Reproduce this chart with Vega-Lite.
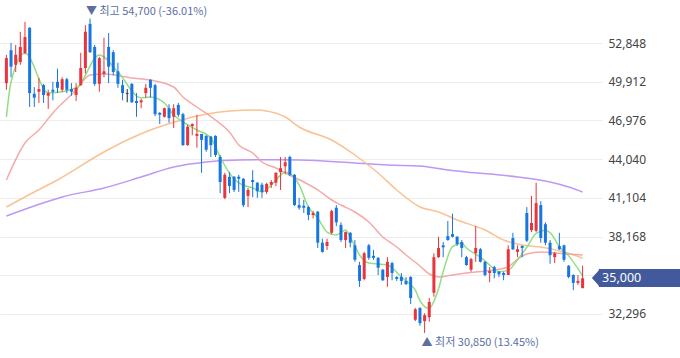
{
"$schema": "https://vega.github.io/schema/vega-lite/v6.json",
"width": 602, "height": 358, "padding": {"left": 0, "top": 0, "right": 78, "bottom": 0}, "autosize": {"type": "none"},
"config": {"view": {"stroke": null}, "font": "Noto Sans"},
"datasets": {
"candles": [
{"i":0,"o":49800,"h":51950,"l":49300,"c":51700,"d":"up"},
{"i":1,"o":52300,"h":52850,"l":50250,"c":51050,"d":"down"},
{"i":2,"o":51200,"h":52700,"l":50650,"c":51950,"d":"up"},
{"i":3,"o":51400,"h":53700,"l":51200,"c":52550,"d":"up"},
{"i":4,"o":52100,"h":54450,"l":52000,"c":53300,"d":"up"},
{"i":5,"o":54000,"h":54050,"l":48000,"c":49050,"d":"down"},
{"i":6,"o":49000,"h":49500,"l":48000,"c":48700,"d":"down"},
{"i":7,"o":49150,"h":50200,"l":48300,"c":49350,"d":"up"},
{"i":8,"o":49650,"h":49750,"l":48300,"c":48900,"d":"down"},
{"i":9,"o":48850,"h":49300,"l":47850,"c":49050,"d":"up"},
{"i":10,"o":49300,"h":49900,"l":48500,"c":49150,"d":"down"},
{"i":11,"o":49900,"h":50900,"l":49050,"c":49450,"d":"down"},
{"i":12,"o":49300,"h":50250,"l":49150,"c":50100,"d":"up"},
{"i":13,"o":50100,"h":50200,"l":49050,"c":49300,"d":"down"},
{"i":14,"o":49350,"h":49800,"l":48850,"c":49150,"d":"down"},
{"i":15,"o":48900,"h":49800,"l":48450,"c":49450,"d":"up"},
{"i":16,"o":49650,"h":52100,"l":49600,"c":50950,"d":"up"},
{"i":17,"o":50950,"h":54200,"l":50550,"c":53700,"d":"up"},
{"i":18,"o":54300,"h":54700,"l":52100,"c":52150,"d":"down"},
{"i":19,"o":52550,"h":52700,"l":49600,"c":49750,"d":"down"},
{"i":20,"o":49750,"h":51800,"l":49150,"c":51700,"d":"up"},
{"i":21,"o":50500,"h":53250,"l":50250,"c":50700,"d":"up"},
{"i":22,"o":52550,"h":53600,"l":49800,"c":51050,"d":"down"},
{"i":23,"o":52150,"h":52300,"l":50400,"c":50650,"d":"down"},
{"i":24,"o":50700,"h":51350,"l":49450,"c":49750,"d":"down"},
{"i":25,"o":49650,"h":50050,"l":48500,"c":49050,"d":"down"},
{"i":26,"o":49050,"h":49350,"l":48350,"c":49000,"d":"flat"},
{"i":27,"o":49750,"h":49800,"l":48300,"c":48350,"d":"down"},
{"i":28,"o":48450,"h":49050,"l":47250,"c":48300,"d":"down"},
{"i":29,"o":48350,"h":48600,"l":47900,"c":48500,"d":"up"},
{"i":30,"o":49050,"h":49750,"l":48700,"c":49450,"d":"up"},
{"i":31,"o":50050,"h":50100,"l":48700,"c":49450,"d":"down"},
{"i":32,"o":49650,"h":49750,"l":47300,"c":47450,"d":"down"},
{"i":33,"o":47550,"h":47600,"l":46700,"c":47400,"d":"down"},
{"i":34,"o":47250,"h":47950,"l":47200,"c":47900,"d":"up"},
{"i":35,"o":47900,"h":48200,"l":46800,"c":47150,"d":"down"},
{"i":36,"o":47250,"h":48200,"l":46400,"c":47900,"d":"up"},
{"i":37,"o":48150,"h":48300,"l":47250,"c":47400,"d":"down"},
{"i":38,"o":47450,"h":47550,"l":45050,"c":45100,"d":"down"},
{"i":39,"o":45100,"h":46650,"l":45050,"c":46500,"d":"up"},
{"i":40,"o":46550,"h":46750,"l":45850,"c":46700,"d":"up"},
{"i":41,"o":45800,"h":47400,"l":44900,"c":45950,"d":"up"},
{"i":42,"o":45950,"h":45950,"l":43000,"c":45500,"d":"down"},
{"i":43,"o":45800,"h":45850,"l":44600,"c":44750,"d":"down"},
{"i":44,"o":45750,"h":45800,"l":44200,"c":45100,"d":"down"},
{"i":45,"o":45800,"h":45850,"l":44200,"c":44350,"d":"down"},
{"i":46,"o":44200,"h":44350,"l":41450,"c":42300,"d":"down"},
{"i":47,"o":41100,"h":43000,"l":41000,"c":42850,"d":"up"},
{"i":48,"o":42700,"h":43050,"l":41450,"c":42000,"d":"down"},
{"i":49,"o":42700,"h":42750,"l":41550,"c":41700,"d":"down"},
{"i":50,"o":42700,"h":42850,"l":41550,"c":42550,"d":"down"},
{"i":51,"o":42550,"h":42600,"l":40400,"c":40550,"d":"down"},
{"i":52,"o":41250,"h":41850,"l":40400,"c":41700,"d":"up"},
{"i":53,"o":42450,"h":43200,"l":41150,"c":42300,"d":"down"},
{"i":54,"o":42250,"h":42300,"l":41100,"c":41600,"d":"down"},
{"i":55,"o":42100,"h":42250,"l":41100,"c":41550,"d":"down"},
{"i":56,"o":41550,"h":42250,"l":41400,"c":42150,"d":"up"},
{"i":57,"o":42100,"h":42450,"l":41850,"c":42300,"d":"up"},
{"i":58,"o":42250,"h":43050,"l":42000,"c":43000,"d":"up"},
{"i":59,"o":43050,"h":44200,"l":41700,"c":43350,"d":"up"},
{"i":60,"o":43500,"h":44200,"l":42900,"c":43800,"d":"up"},
{"i":61,"o":44200,"h":44300,"l":42750,"c":42850,"d":"down"},
{"i":62,"o":42850,"h":42900,"l":40500,"c":40550,"d":"down"},
{"i":63,"o":40550,"h":41100,"l":40200,"c":40350,"d":"down"},
{"i":64,"o":40500,"h":40950,"l":39950,"c":40350,"d":"down"},
{"i":65,"o":40400,"h":40500,"l":39400,"c":39800,"d":"down"},
{"i":66,"o":39800,"h":40100,"l":39550,"c":39950,"d":"up"},
{"i":67,"o":40050,"h":40100,"l":37300,"c":37700,"d":"down"},
{"i":68,"o":37700,"h":38000,"l":36950,"c":37000,"d":"down"},
{"i":69,"o":37450,"h":38000,"l":37150,"c":37750,"d":"up"},
{"i":70,"o":38450,"h":40200,"l":38350,"c":40100,"d":"up"},
{"i":71,"o":40350,"h":40550,"l":38950,"c":39250,"d":"down"},
{"i":72,"o":39050,"h":39250,"l":37750,"c":37900,"d":"down"},
{"i":73,"o":37900,"h":38550,"l":37300,"c":38500,"d":"up"},
{"i":74,"o":38450,"h":38500,"l":37350,"c":37700,"d":"down"},
{"i":75,"o":37500,"h":37900,"l":36250,"c":36400,"d":"down"},
{"i":76,"o":36000,"h":36250,"l":34350,"c":34800,"d":"down"},
{"i":77,"o":34950,"h":37000,"l":34850,"c":36900,"d":"up"},
{"i":78,"o":37500,"h":37600,"l":36400,"c":36550,"d":"down"},
{"i":79,"o":36700,"h":37150,"l":36400,"c":36550,"d":"down"},
{"i":80,"o":36550,"h":36600,"l":35250,"c":35800,"d":"down"},
{"i":81,"o":35650,"h":35700,"l":34800,"c":34850,"d":"down"},
{"i":82,"o":35100,"h":36600,"l":34350,"c":36250,"d":"up"},
{"i":83,"o":36150,"h":36250,"l":34850,"c":35400,"d":"down"},
{"i":84,"o":35100,"h":35150,"l":34800,"c":34950,"d":"down"},
{"i":85,"o":35100,"h":35400,"l":34500,"c":34800,"d":"down"},
{"i":86,"o":34800,"h":35100,"l":34500,"c":34550,"d":"down"},
{"i":87,"o":35100,"h":35150,"l":33050,"c":33500,"d":"down"},
{"i":88,"o":31850,"h":32750,"l":31750,"c":32650,"d":"up"},
{"i":89,"o":32750,"h":32800,"l":31400,"c":31600,"d":"down"},
{"i":90,"o":31750,"h":32350,"l":30850,"c":32200,"d":"up"},
{"i":91,"o":32050,"h":33500,"l":31700,"c":33200,"d":"up"},
{"i":92,"o":33900,"h":36900,"l":33600,"c":36600,"d":"up"},
{"i":93,"o":36600,"h":38150,"l":36550,"c":37300,"d":"up"},
{"i":94,"o":37500,"h":37750,"l":36600,"c":37350,"d":"down"},
{"i":95,"o":38200,"h":39350,"l":37850,"c":37900,"d":"down"},
{"i":96,"o":38350,"h":39900,"l":38100,"c":38150,"d":"down"},
{"i":97,"o":38150,"h":38200,"l":37450,"c":37600,"d":"down"},
{"i":98,"o":37750,"h":37900,"l":36600,"c":37300,"d":"down"},
{"i":99,"o":36600,"h":36700,"l":35950,"c":36000,"d":"down"},
{"i":100,"o":35650,"h":36550,"l":35500,"c":36450,"d":"up"},
{"i":101,"o":36900,"h":38950,"l":36250,"c":37300,"d":"up"},
{"i":102,"o":37200,"h":37300,"l":36200,"c":36250,"d":"down"},
{"i":103,"o":36250,"h":36300,"l":35150,"c":35250,"d":"down"},
{"i":104,"o":35400,"h":35850,"l":34700,"c":35550,"d":"up"},
{"i":105,"o":35850,"h":35950,"l":35000,"c":35400,"d":"down"},
{"i":106,"o":35500,"h":35550,"l":35100,"c":35300,"d":"down"},
{"i":107,"o":35400,"h":35500,"l":34850,"c":35250,"d":"down"},
{"i":108,"o":35250,"h":37500,"l":35250,"c":37200,"d":"up"},
{"i":109,"o":38050,"h":38450,"l":37150,"c":37200,"d":"down"},
{"i":110,"o":37000,"h":37500,"l":36600,"c":37200,"d":"up"},
{"i":111,"o":37450,"h":37500,"l":36600,"c":37300,"d":"down"},
{"i":112,"o":39950,"h":40400,"l":37750,"c":37850,"d":"down"},
{"i":113,"o":38650,"h":41250,"l":38500,"c":39200,"d":"up"},
{"i":114,"o":38600,"h":42250,"l":38500,"c":40700,"d":"up"},
{"i":115,"o":40550,"h":40850,"l":37700,"c":38050,"d":"down"},
{"i":116,"o":39100,"h":39250,"l":37500,"c":37700,"d":"down"},
{"i":117,"o":37700,"h":37900,"l":36100,"c":36750,"d":"down"},
{"i":118,"o":36600,"h":37000,"l":36150,"c":36900,"d":"up"},
{"i":119,"o":37450,"h":38450,"l":37150,"c":37200,"d":"down"},
{"i":120,"o":37500,"h":37550,"l":36250,"c":36400,"d":"down"},
{"i":121,"o":35950,"h":36000,"l":35000,"c":35100,"d":"down"},
{"i":122,"o":35250,"h":35300,"l":34100,"c":34650,"d":"down"},
{"i":123,"o":34650,"h":35250,"l":34500,"c":34800,"d":"up"},
{"i":124,"o":34250,"h":35950,"l":34250,"c":35000,"d":"up"}
],
"ma": [
{"m":"ma120","i":0,"v":39724},{"m":"ma120","i":6,"v":40483},{"m":"ma120","i":12,"v":41166},{"m":"ma120","i":21,"v":41848},{"m":"ma120","i":29,"v":42683},{"m":"ma120","i":36,"v":43441},{"m":"ma120","i":43,"v":43821},{"m":"ma120","i":50,"v":43972},{"m":"ma120","i":57,"v":43990},{"m":"ma120","i":63,"v":43972},{"m":"ma120","i":75,"v":43745},{"m":"ma120","i":82,"v":43593},{"m":"ma120","i":89,"v":43517},{"m":"ma120","i":95,"v":43214},{"m":"ma120","i":99,"v":43062},{"m":"ma120","i":110,"v":42683},{"m":"ma120","i":117,"v":42303},{"m":"ma120","i":121,"v":41924},{"m":"ma120","i":124,"v":41545},
{"m":"ma60","i":0,"v":40407},{"m":"ma60","i":6,"v":41545},{"m":"ma60","i":11,"v":42455},{"m":"ma60","i":21,"v":44579},{"m":"ma60","i":26,"v":45490},{"m":"ma60","i":31,"v":46248},{"m":"ma60","i":37,"v":46931},{"m":"ma60","i":42,"v":47386},{"m":"ma60","i":48,"v":47690},{"m":"ma60","i":54,"v":47765},{"m":"ma60","i":56,"v":47690},{"m":"ma60","i":60,"v":47234},{"m":"ma60","i":63,"v":46476},{"m":"ma60","i":70,"v":45490},{"m":"ma60","i":75,"v":44352},{"m":"ma60","i":80,"v":42986},{"m":"ma60","i":84,"v":41697},{"m":"ma60","i":89,"v":40407},{"m":"ma60","i":93,"v":40028},{"m":"ma60","i":97,"v":39421},{"m":"ma60","i":103,"v":38662},{"m":"ma60","i":107,"v":37904},{"m":"ma60","i":111,"v":37524},{"m":"ma60","i":115,"v":37373},{"m":"ma60","i":120,"v":36993},{"m":"ma60","i":124,"v":36538},
{"m":"ma20","i":0,"v":42455},{"m":"ma20","i":4,"v":45262},{"m":"ma20","i":7,"v":46248},{"m":"ma20","i":10,"v":47538},{"m":"ma20","i":15,"v":49283},{"m":"ma20","i":18,"v":50420},{"m":"ma20","i":21,"v":50496},{"m":"ma20","i":27,"v":50193},{"m":"ma20","i":31,"v":50041},{"m":"ma20","i":36,"v":49510},{"m":"ma20","i":38,"v":48752},{"m":"ma20","i":41,"v":47993},{"m":"ma20","i":45,"v":47007},{"m":"ma20","i":48,"v":46096},{"m":"ma20","i":50,"v":45110},{"m":"ma20","i":53,"v":44504},{"m":"ma20","i":55,"v":43821},{"m":"ma20","i":58,"v":43366},{"m":"ma20","i":60,"v":42986},{"m":"ma20","i":64,"v":42303},{"m":"ma20","i":67,"v":41697},{"m":"ma20","i":70,"v":40938},{"m":"ma20","i":72,"v":40559},{"m":"ma20","i":75,"v":40028},{"m":"ma20","i":78,"v":39269},{"m":"ma20","i":81,"v":38131},{"m":"ma20","i":84,"v":37373},{"m":"ma20","i":86,"v":36766},{"m":"ma20","i":89,"v":35931},{"m":"ma20","i":91,"v":35324},{"m":"ma20","i":93,"v":35097},{"m":"ma20","i":96,"v":35248},{"m":"ma20","i":99,"v":35400},{"m":"ma20","i":101,"v":35476},{"m":"ma20","i":105,"v":35628},{"m":"ma20","i":108,"v":35855},{"m":"ma20","i":110,"v":36462},{"m":"ma20","i":112,"v":36842},{"m":"ma20","i":115,"v":36993},{"m":"ma20","i":118,"v":36917},{"m":"ma20","i":121,"v":36842},{"m":"ma20","i":124,"v":36766},
{"m":"ma5","i":0,"v":47230},{"m":"ma5","i":1,"v":49890},{"m":"ma5","i":4,"v":52090},{"m":"ma5","i":9,"v":49060},{"m":"ma5","i":15,"v":49430},{"m":"ma5","i":20,"v":51940},{"m":"ma5","i":24,"v":50650},{"m":"ma5","i":29,"v":48680},{"m":"ma5","i":31,"v":48750},{"m":"ma5","i":34,"v":48300},{"m":"ma5","i":36,"v":47390},{"m":"ma5","i":38,"v":46860},{"m":"ma5","i":41,"v":46250},{"m":"ma5","i":44,"v":45640},{"m":"ma5","i":46,"v":44200},{"m":"ma5","i":48,"v":42990},{"m":"ma5","i":50,"v":42230},{"m":"ma5","i":53,"v":41850},{"m":"ma5","i":55,"v":41550},{"m":"ma5","i":57,"v":42080},{"m":"ma5","i":59,"v":42830},{"m":"ma5","i":60,"v":43060},{"m":"ma5","i":62,"v":42610},{"m":"ma5","i":63,"v":42080},{"m":"ma5","i":65,"v":40410},{"m":"ma5","i":67,"v":39570},{"m":"ma5","i":69,"v":38510},{"m":"ma5","i":71,"v":38280},{"m":"ma5","i":73,"v":38660},{"m":"ma5","i":74,"v":38130},{"m":"ma5","i":76,"v":36770},{"m":"ma5","i":78,"v":36160},{"m":"ma5","i":82,"v":36010},{"m":"ma5","i":85,"v":35100},{"m":"ma5","i":87,"v":34500},{"m":"ma5","i":88,"v":34100},{"m":"ma5","i":89,"v":33300},{"m":"ma5","i":90,"v":32850},{"m":"ma5","i":91,"v":32700},{"m":"ma5","i":92,"v":33250},{"m":"ma5","i":93,"v":34200},{"m":"ma5","i":94,"v":35500},{"m":"ma5","i":96,"v":37400},{"m":"ma5","i":98,"v":37650},{"m":"ma5","i":99,"v":37300},{"m":"ma5","i":102,"v":36600},{"m":"ma5","i":104,"v":36000},{"m":"ma5","i":106,"v":35500},{"m":"ma5","i":108,"v":35600},{"m":"ma5","i":110,"v":36400},{"m":"ma5","i":112,"v":37350},{"m":"ma5","i":114,"v":38400},{"m":"ma5","i":116,"v":38650},{"m":"ma5","i":117,"v":38460},{"m":"ma5","i":119,"v":37400},{"m":"ma5","i":121,"v":36700},{"m":"ma5","i":124,"v":35190}
]
},
"layer": [
{"data": {"name": "ma"},
 "mark": {"type": "line", "strokeWidth": 1.5, "opacity": 0.9, "interpolate": "monotone"},
 "encoding": {
  "x": {"field": "i", "type": "quantitative", "scale": {"domain": [-0.3, 127.1], "nice": false, "zero": false}, "axis": null},
  "y": {"field": "v", "type": "quantitative", "scale": {"domain": [28952, 56110], "nice": false, "zero": false},
        "axis": {"orient": "right", "values": [32296, 35232, 38168, 41104, 44040, 46976, 49912, 52848], "labelExpr": "datum.value == 35232 ? '' : format(datum.value, ',')", "grid": true, "gridColor": "#ededed", "gridWidth": 1, "domain": false, "ticks": false, "labelPadding": 6, "labelColor": "#444444", "labelFontSize": 12, "labelFont": "Noto Sans", "title": null}},
  "color": {"field": "m", "type": "nominal", "legend": null, "scale": {"domain": ["ma5", "ma20", "ma60", "ma120", "up", "down", "flat"], "range": ["#86dc76", "#f4a0a0", "#f8bb86", "#b68cf2", "#e8343c", "#1776e2", "#222222"]}},
  "order": {"field": "i"}
 }},
{"data": {"name": "candles"},
 "mark": {"type": "rule", "strokeWidth": 1},
 "encoding": {
  "x": {"field": "i", "type": "quantitative"},
  "y": {"field": "l", "type": "quantitative"},
  "y2": {"field": "h"},
  "color": {"field": "d", "type": "nominal", "legend": null, "scale": {"domain": ["ma5", "ma20", "ma60", "ma120", "up", "down", "flat"], "range": ["#86dc76", "#f4a0a0", "#f8bb86", "#b68cf2", "#e8343c", "#1776e2", "#222222"]}}
 }},
{"data": {"name": "candles"},
 "mark": {"type": "bar", "size": 3},
 "encoding": {
  "x": {"field": "i", "type": "quantitative"},
  "y": {"field": "o", "type": "quantitative"},
  "y2": {"field": "c"},
  "color": {"field": "d", "type": "nominal", "legend": null, "scale": {"domain": ["ma5", "ma20", "ma60", "ma120", "up", "down", "flat"], "range": ["#86dc76", "#f4a0a0", "#f8bb86", "#b68cf2", "#e8343c", "#1776e2", "#222222"]}}
 }},
{"data": {"values": [{"i": 18, "v": 54700, "t": "▼ 최고 54,700 (-36.01%)"}]},
 "mark": {"type": "text", "align": "left", "baseline": "middle", "dx": -4, "dy": -7, "fontSize": 11, "font": "Noto Sans CJK KR", "fill": "#5c6ea3"},
 "encoding": {"x": {"field": "i", "type": "quantitative"}, "y": {"field": "v", "type": "quantitative"}, "text": {"field": "t"}}},
{"data": {"values": [{"i": 90, "v": 30850, "t": "▲ 최저 30,850 (13.45%)"}]},
 "mark": {"type": "text", "align": "left", "baseline": "middle", "dx": -3, "dy": 10, "fontSize": 11, "font": "Noto Sans CJK KR", "fill": "#5c6ea3"},
 "encoding": {"x": {"field": "i", "type": "quantitative"}, "y": {"field": "v", "type": "quantitative"}, "text": {"field": "t"}}},
{"data": {"values": [{"x1": 127.5, "x2": 145, "y1": 35704, "y2": 34338}]},
 "mark": {"type": "rect", "fill": "#425a9b"},
 "encoding": {"x": {"field": "x1", "type": "quantitative"}, "x2": {"field": "x2"}, "y": {"field": "y1", "type": "quantitative"}, "y2": {"field": "y2"}}},
{"data": {"values": [{"i": 127.55, "v": 35021}]},
 "mark": {"type": "point", "shape": "M -0.8 0 L 0.1 -1 L 0.1 1 Z", "size": 324, "filled": true, "fill": "#425a9b", "opacity": 1, "strokeWidth": 0},
 "encoding": {"x": {"field": "i", "type": "quantitative"}, "y": {"field": "v", "type": "quantitative"}}},
{"data": {"values": [{"i": 128.2, "v": 35021, "t": "35,000"}]},
 "mark": {"type": "text", "align": "left", "baseline": "middle", "fontSize": 12.5, "font": "Noto Sans", "fill": "#ffffff"},
 "encoding": {"x": {"field": "i", "type": "quantitative"}, "y": {"field": "v", "type": "quantitative"}, "text": {"field": "t"}}}
]
}
